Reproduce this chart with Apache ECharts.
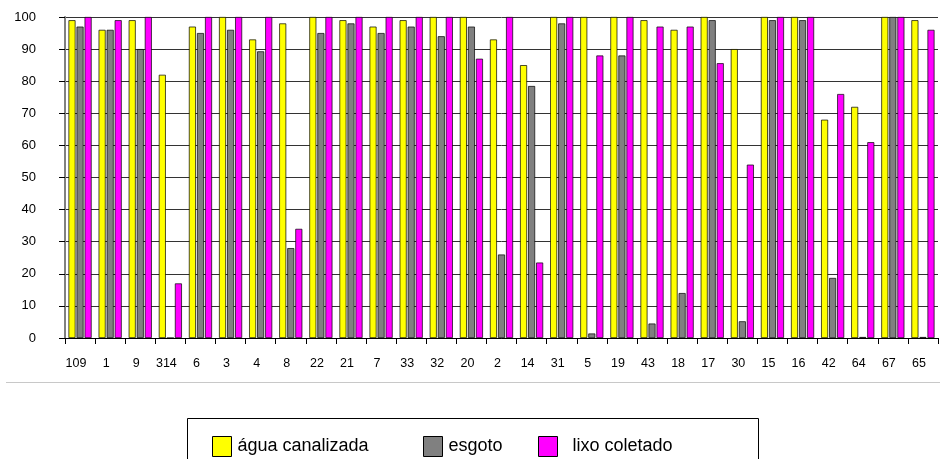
<!DOCTYPE html>
<html>
<head>
<meta charset="utf-8">
<script src="https://cdn.jsdelivr.net/npm/echarts@6/dist/echarts.min.js"></script>
<style>html,body{margin:0;padding:0;background:#fff;}#c{width:945px;height:459px;}</style>
</head>
<body>
<div id="c"></div>
<script>
const categories = ['109','1','9','314','6','3','4','8','22','21','7','33','32','20','2','14','31','5','19','43','18','17','30','15','16','42','64','67','65'];
const agua =  [99,96,99,82,97,100,93,98,100,99,97,99,100,100,93,85,100,100,100,99,96,100,90,100,100,68,72,100,99];
const esgoto = [97,96,90,0,95,96,89.3,28,95,98,95,97,94,97,26,78.5,98,1.4,88,4.5,14,99,5.2,99,99,18.7,0.3,100,0.3];
const lixo =  [100,99,100,17,100,100,100,34,100,100,100,100,100,87,100,23.5,100,88,100,97,97,85.6,54,100,100,76,61,100,96];
const yTicks = [0,10,20,30,40,50,60,70,80,90,100];
const seriesNames = ['água canalizada','esgoto','lixo coletado'];

const chart = echarts.init(document.getElementById('c'), null, {renderer:'canvas'});
const font = 'Liberation Sans, Arial, sans-serif';
const mk = (name, data, color) => ({
  name, type:'bar', data, barWidth:7, barGap:'15%',
  itemStyle:{color, borderColor:'#000', borderWidth:0.7},
  animation:false
});
const leg = (name, left, pad) => ({
  data:[name], left, top:431, itemWidth:19, itemHeight:20, icon:'rect', itemGap:0,
  textStyle:{fontFamily:font, fontSize:18, color:'#000', padding:[0,0,0,pad]},
  itemStyle:{borderColor:'#000', borderWidth:1}
});
chart.setOption({
  animation:false,
  grid:{left:65, right:7, top:17, bottom:121, containLabel:false},
  xAxis:{
    type:'category', data:categories,
    axisLine:{lineStyle:{color:'#000', width:1}},
    axisTick:{show:true, length:6, lineStyle:{color:'#000'}},
    axisLabel:{fontFamily:font, fontSize:12.5, color:'#000', margin:19, interval:0, padding:[0,8,0,0]},
    splitLine:{show:false}
  },
  yAxis:{
    type:'value', min:0, max:100, interval:10,
    axisLine:{show:true, lineStyle:{color:'#808080', width:2}},
    axisTick:{show:true, length:6, lineStyle:{color:'#000'}},
    axisLabel:{fontFamily:font, fontSize:13, color:'#000', margin:29, formatter:v=>yTicks.includes(v)?String(v):''},
    splitLine:{show:true, lineStyle:{color:'#333', width:1}}
  },
  legend:[
    leg(seriesNames[0], 207, 1),
    leg(seriesNames[1], 418, 1),
    leg(seriesNames[2], 533, 10)
  ],
  graphic:[
    {type:'line', shape:{x1:6, y1:382.5, x2:940, y2:382.5}, style:{stroke:'#c8c8c8', lineWidth:1}},
    {type:'rect', shape:{x:187.5, y:418.5, width:571, height:50}, style:{fill:null, stroke:'#000', lineWidth:1}}
  ],
  series:[
    mk(seriesNames[0], agua, '#ffff00'),
    mk(seriesNames[1], esgoto, '#808080'),
    mk(seriesNames[2], lixo, '#ff00ff')
  ]
});
</script>
</body>
</html>
